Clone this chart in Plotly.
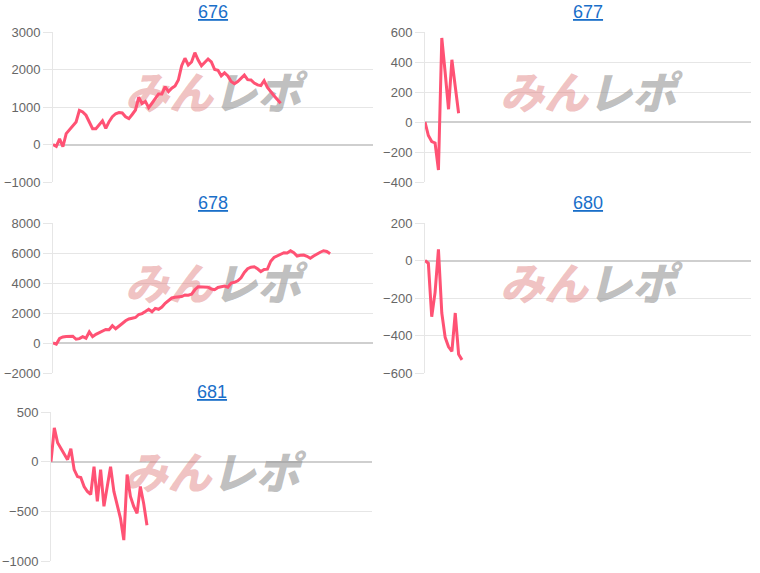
import plotly.graph_objects as go

# ---- data ----
titles = ["676", "677", "678", "680", "681"]

s676 = [0, -50, 150, -60, 290, 400, 520, 600, 910, 870, 780, 580, 420, 420, 520, 630, 430, 610, 740, 820,
        850, 840, 740, 690, 800, 920, 1260, 1090, 1150, 980, 1100, 1240, 1350, 1350, 1540, 1410, 1500, 1560,
        1720, 2100, 2300, 2120, 2200, 2450, 2250, 2100, 2200, 2280, 2200, 2000, 1980, 1830, 1910, 1830, 1680,
        1620, 1680, 1760, 1850, 1730, 1720, 1640, 1590, 1570, 1700, 1520, 1400, 1300, 1200, 1100]
s677 = [0, -90, -130, -140, -320, 560, 330, 85, 415, 230, 58]
s678 = [0, -80, 300, 400, 440, 470, 450, 250, 290, 420, 320, 740, 420, 580, 700, 800, 900, 880, 1150, 950,
        1150, 1300, 1480, 1600, 1650, 1700, 1900, 1960, 2100, 2250, 2080, 2310, 2250, 2400, 2650, 2850, 3000,
        3050, 3050, 3100, 3200, 3180, 3250, 3550, 3750, 3750, 3760, 3720, 3600, 3550, 3700, 3750, 3800, 3720,
        4000, 4050, 4150, 4350, 4700, 4950, 5050, 5080, 4950, 4760, 4900, 4920, 5450, 5700, 5800, 5900, 6020,
        6000, 6150, 6020, 5800, 5850, 5860, 5780, 5650, 5800, 5950, 6050, 6150, 6100, 5950]
s680 = [0, -15, -300, -170, 60, -280, -410, -460, -485, -280, -500, -530]
s681 = [0, 340, 190, 130, 80, 20, 130, -80, -150, -160, -250, -300, -330, -50, -400, -80, -450, -230, -50,
        -300, -450, -570, -790, -130, -350, -450, -520, -250, -420, -640]
series = [s676, s677, s678, s680, s681]

y_ranges = [[-1000, 3000], [-400, 600], [-2000, 8000], [-600, 200], [-1000, 500]]
y_dticks = [1000, 200, 2000, 200, 500]
X_MAX = 97

# ---- layout geometry (pixels) ----
W, H = 760, 573
cols = [(53, 373), (425, 751), (53, 373), (425, 751), (51, 372)]
rows = [(32, 182), (32, 182), (223, 373), (223, 373), (412, 561)]

LINE = "#ff5274"
GRID = "#e6e6e6"

fig = go.Figure()
layout = dict(width=W, height=H, margin=dict(l=0, r=0, t=0, b=0, autoexpand=False),
              paper_bgcolor="white", plot_bgcolor="white", showlegend=False,
              font=dict(family="Liberation Sans, Arial, sans-serif"))
annotations = []

for i, (t, ys) in enumerate(zip(titles, series)):
    n = i + 1
    xa = "x" if n == 1 else f"x{n}"
    ya = "y" if n == 1 else f"y{n}"
    x0, x1 = cols[i]
    yt, yb = rows[i]
    lo, hi = y_ranges[i]

    # watermark behind line
    fig.add_trace(go.Scatter(
        x=[X_MAX * (((x0 + x1) / 2 - x0) / (x1 - x0))],
        y=[lo + 0.56 * (hi - lo)],
        mode="text",
        text=["<span style='color:rgba(222,120,120,0.45)'>みん</span>"
              "<span style='color:rgba(150,150,150,0.62)'>レポ</span>"],
        textfont=dict(family="Noto Sans CJK JP", size=44, weight=900, style="italic"),
        textposition="middle center",
        hoverinfo="skip", xaxis=xa, yaxis=ya))

    fig.add_trace(go.Scatter(
        x=list(range(len(ys))), y=ys, mode="lines",
        line=dict(color=LINE, width=3), xaxis=xa, yaxis=ya, hoverinfo="skip"))

    layout["xaxis" if n == 1 else f"xaxis{n}"] = dict(
        domain=[x0 / W, x1 / W], range=[0, X_MAX], anchor=ya, automargin=False,
        showgrid=False, zeroline=False, showticklabels=False, ticks="", showline=False)
    layout["yaxis" if n == 1 else f"yaxis{n}"] = dict(
        domain=[1 - yb / H, 1 - yt / H], range=[lo, hi], dtick=y_dticks[i], anchor=xa,
        automargin=False,
        showgrid=True, gridcolor=GRID, gridwidth=1,
        zeroline=True, zerolinecolor="#cfcfcf", zerolinewidth=2,
        showline=True, linecolor=GRID, linewidth=1,
        ticks="outside", ticklen=9, tickcolor=GRID,
        tickfont=dict(size=13, color="#666666"))

    annotations.append(dict(
        text=f"<u>{t}</u>", xref="paper", yref="paper",
        x=((x0 + x1) / 2) / W, y=1 - (yt - 20) / H,
        xanchor="center", yanchor="middle", showarrow=False,
        font=dict(size=18, color="#1a6fc9")))

layout["annotations"] = annotations
fig.update_layout(**layout)
fig.write_html("out.html", config={"displayModeBar": False, "staticPlot": True},
               post_script="document.body.style.margin='0';")
